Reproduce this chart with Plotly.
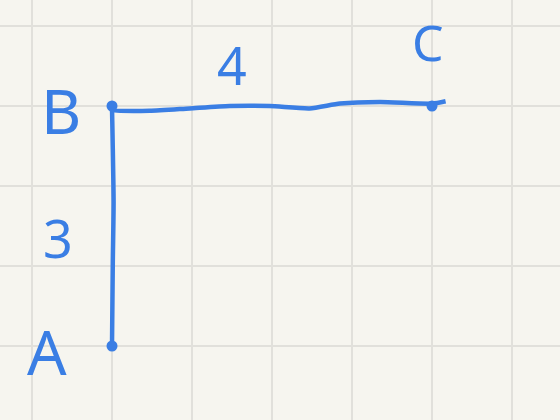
import plotly.graph_objects as go

# sketch on grid paper: one grid square = 1 unit, A at origin
path_x = [0.0, 0.01, 0.02, 0.0, 0.0, 0.47, 0.97, 1.47, 1.97, 2.47, 2.85, 3.35, 4.0, 4.17]
path_y = [0.0, 1.05, 1.8, 2.97, 2.95, 2.94, 2.97, 3.0, 3.0, 2.97, 3.03, 3.05, 3.03, 3.06]

point_x = [0, 0, 4]
point_y = [0, 3, 3]

label_text = ["A", "B", "C", "3", "4"]
label_x = [-0.81, -0.64, 3.95, -0.68, 1.5]
label_y = [-0.06, 2.95, 3.8, 1.36, 3.52]
label_size = [62, 62, 50, 52, 52]

blue = "#3a7ee4"

fig = go.Figure()

fig.add_trace(
    go.Scatter(
        x=path_x, y=path_y, mode="lines",
        line=dict(color=blue, width=4.5, shape="spline", smoothing=0.6),
        hoverinfo="skip",
    )
)
fig.add_trace(
    go.Scatter(
        x=point_x, y=point_y, mode="markers",
        marker=dict(color=blue, size=11),
        hoverinfo="skip",
    )
)

for t, x, y, s in zip(label_text, label_x, label_y, label_size):
    fig.add_annotation(
        x=x, y=y, text=t, showarrow=False,
        font=dict(family="Noto Sans", size=s, color=blue),
    )

fig.update_layout(
    width=560, height=420,
    margin=dict(l=0, r=0, t=0, b=0),
    paper_bgcolor="#f6f5ef",
    plot_bgcolor="#f6f5ef",
    showlegend=False,
)
fig.update_xaxes(
    range=[-1.4, 5.6], dtick=1, tick0=0,
    showgrid=True, gridcolor="#e1e0db", gridwidth=2,
    zeroline=False, showticklabels=False, fixedrange=True,
)
fig.update_yaxes(
    range=[-0.925, 4.325], dtick=1, tick0=0,
    showgrid=True, gridcolor="#e1e0db", gridwidth=2,
    zeroline=False, showticklabels=False, fixedrange=True,
)

fig.write_html(
    "out.html",
    config={"displayModeBar": False},
    post_script="document.body.style.margin='0';document.body.style.overflow='hidden';",
)
